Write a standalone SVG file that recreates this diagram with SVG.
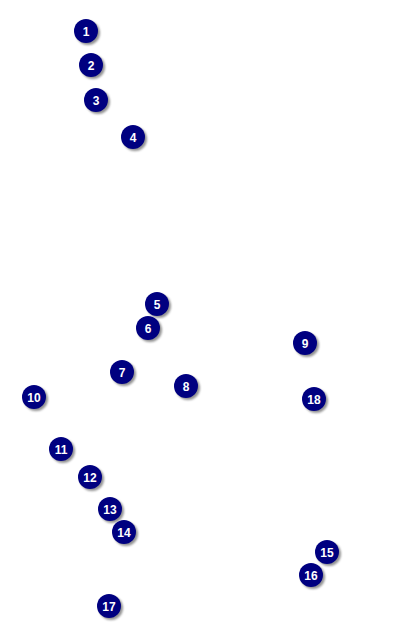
<svg xmlns="http://www.w3.org/2000/svg" width="415" height="633" viewBox="0 0 415 633">
<defs>
<filter id="blur" x="-50%" y="-50%" width="200%" height="200%"><feGaussianBlur stdDeviation="0.8"/></filter>
</defs>
<style>
.sh{fill:#777;opacity:0.8;filter:url(#blur)}
.c{fill:#000080}
.t{fill:#fff;font-family:"Liberation Sans",Arial,sans-serif;font-weight:bold;font-size:12px;text-anchor:middle;dominant-baseline:central}
</style>
<rect width="415" height="633" fill="#fff"/>
<g id="connectors"/>
<g id="n1" transform="translate(86,31)"><circle class="sh" cx="2" cy="2" r="12"/><circle class="c" r="12"/><text class="t" y="1">1</text></g>
<g id="n2" transform="translate(91,65)"><circle class="sh" cx="2" cy="2" r="12"/><circle class="c" r="12"/><text class="t" y="1">2</text></g>
<g id="n3" transform="translate(96,100)"><circle class="sh" cx="2" cy="2" r="12"/><circle class="c" r="12"/><text class="t" y="1">3</text></g>
<g id="n4" transform="translate(133,137)"><circle class="sh" cx="2" cy="2" r="12"/><circle class="c" r="12"/><text class="t" y="1">4</text></g>
<g id="n5" transform="translate(157,304)"><circle class="sh" cx="2" cy="2" r="12"/><circle class="c" r="12"/><text class="t" y="1">5</text></g>
<g id="n6" transform="translate(148,328)"><circle class="sh" cx="2" cy="2" r="12"/><circle class="c" r="12"/><text class="t" y="1">6</text></g>
<g id="n7" transform="translate(122,372)"><circle class="sh" cx="2" cy="2" r="12"/><circle class="c" r="12"/><text class="t" y="1">7</text></g>
<g id="n8" transform="translate(186,386)"><circle class="sh" cx="2" cy="2" r="12"/><circle class="c" r="12"/><text class="t" y="1">8</text></g>
<g id="n9" transform="translate(305,343)"><circle class="sh" cx="2" cy="2" r="12"/><circle class="c" r="12"/><text class="t" y="1">9</text></g>
<g id="n10" transform="translate(34,397)"><circle class="sh" cx="2" cy="2" r="12"/><circle class="c" r="12"/><text class="t" y="1">10</text></g>
<g id="n11" transform="translate(61,449)"><circle class="sh" cx="2" cy="2" r="12"/><circle class="c" r="12"/><text class="t" y="1">11</text></g>
<g id="n12" transform="translate(90,477)"><circle class="sh" cx="2" cy="2" r="12"/><circle class="c" r="12"/><text class="t" y="1">12</text></g>
<g id="n13" transform="translate(110,509)"><circle class="sh" cx="2" cy="2" r="12"/><circle class="c" r="12"/><text class="t" y="1">13</text></g>
<g id="n14" transform="translate(124,532)"><circle class="sh" cx="2" cy="2" r="12"/><circle class="c" r="12"/><text class="t" y="1">14</text></g>
<g id="n15" transform="translate(327,552)"><circle class="sh" cx="2" cy="2" r="12"/><circle class="c" r="12"/><text class="t" y="1">15</text></g>
<g id="n16" transform="translate(311,575)"><circle class="sh" cx="2" cy="2" r="12"/><circle class="c" r="12"/><text class="t" y="1">16</text></g>
<g id="n17" transform="translate(109,606)"><circle class="sh" cx="2" cy="2" r="12"/><circle class="c" r="12"/><text class="t" y="1">17</text></g>
<g id="n18" transform="translate(314,399)"><circle class="sh" cx="2" cy="2" r="12"/><circle class="c" r="12"/><text class="t" y="1">18</text></g>
</svg>
